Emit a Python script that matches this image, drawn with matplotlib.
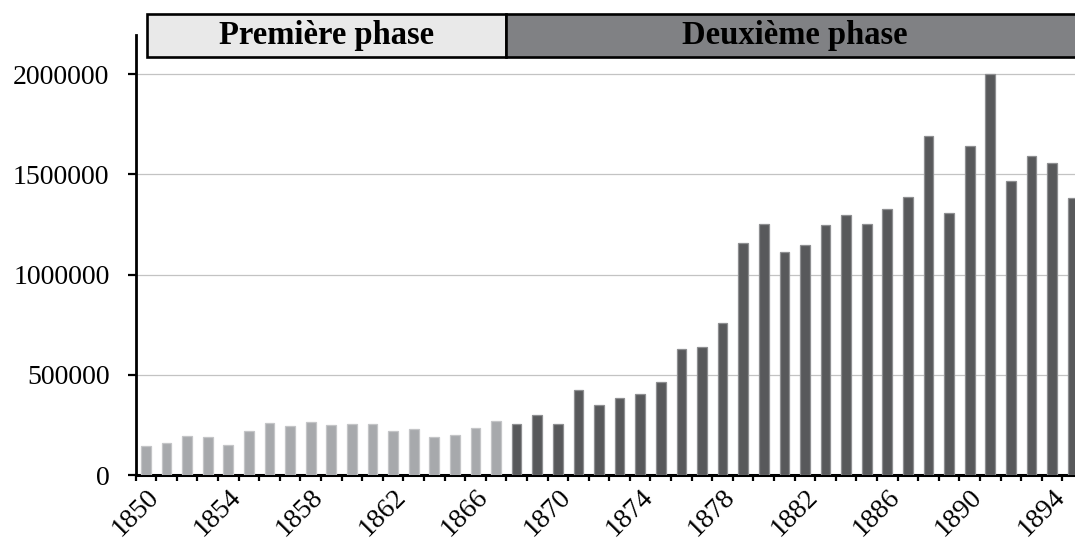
import matplotlib

matplotlib.use("Agg")

import matplotlib.pyplot as plt
from matplotlib.patches import Rectangle
from matplotlib.transforms import ScaledTranslation, blended_transform_factory

YEARS = list(range(1850, 1896))

VALUES = [
    144000, 158000, 196000, 191000, 151000, 220000, 258000, 242000, 262000, 247000,
    252000, 255000, 220000, 228000, 188000, 200000, 233000, 268000,
    255000, 298000, 254000, 425000, 349000, 385000, 405000, 466000, 631000, 636000,
    758000, 1158000, 1253000, 1110000, 1147000, 1245000, 1297000, 1253000, 1328000,
    1388000, 1690000, 1305000, 1641000, 2002000, 1465000, 1592000, 1557000, 1380000,
]

PHASE_LABELS = ["Première phase", "Deuxième phase"]
PHASE_SPLIT_YEAR = 1868

Y_TICKS = [0, 500000, 1000000, 1500000, 2000000]
X_LABEL_EVERY = 4

LIGHT_BAR = "#a7a9ac"
DARK_BAR = "#58595b"
LIGHT_BOX = "#e9e9e9"
DARK_BOX = "#808184"
FONT = "Liberation Serif"


def build_chart():
    plt.rcParams["font.family"] = FONT

    fig = plt.figure(figsize=(10.75, 5.43), dpi=100)
    # axes run a little past the right edge, like the cropped original
    ax = fig.add_axes([0.1262, 0.1252, 0.8812, 0.8103])

    x = list(range(len(YEARS)))
    split = YEARS.index(PHASE_SPLIT_YEAR)
    colors = [LIGHT_BAR if i < split else DARK_BAR for i in x]
    edges = ["#c4c5c7" if i < split else "#8e8f91" for i in x]

    ax.bar(x, VALUES, width=0.47, color=colors, edgecolor=edges, linewidth=0.9, zorder=3)

    ax.set_xlim(-0.5, len(YEARS) - 0.5)
    ax.set_ylim(0, 2194500)

    ax.set_yticks(Y_TICKS)
    ax.set_yticklabels([str(v) for v in Y_TICKS], fontsize=20)
    ax.grid(axis="y", color="#c3c3c3", linewidth=0.9, zorder=0)

    label_pos = x[::X_LABEL_EVERY]
    ax.set_xticks(label_pos)
    ax.set_xticklabels([str(YEARS[i]) for i in label_pos], fontsize=20, rotation=45,
                       ha="right", va="top", rotation_mode="anchor")
    shift = ScaledTranslation(-3 / 72, 0, fig.dpi_scale_trans)
    for lbl in ax.get_xticklabels():
        lbl.set_transform(lbl.get_transform() + shift)
    ax.set_xticks([i - 0.5 for i in x], minor=True)
    ax.tick_params(axis="x", which="major", length=0, pad=7)
    ax.tick_params(axis="x", which="minor", length=4.5, width=1.6, direction="out")
    ax.tick_params(axis="y", length=5.8, width=1.6, pad=13)

    for side in ("top", "right"):
        ax.spines[side].set_visible(False)
    ax.spines["left"].set_linewidth(2)
    ax.spines["bottom"].set_linewidth(2.2)

    # phase header boxes above the plot
    trans = blended_transform_factory(ax.transData, fig.transFigure)
    box_y0, box_h = 1 - 57 / 543, 43 / 543
    spans = [(0.05, split - 0.5, LIGHT_BOX), (split - 0.5, len(YEARS) - 0.5, DARK_BOX)]
    for (x0, x1, fill), label in zip(spans, PHASE_LABELS):
        ax.add_patch(Rectangle((x0, box_y0), x1 - x0, box_h, transform=trans,
                               facecolor=fill, edgecolor="black", linewidth=1.9,
                               clip_on=False, zorder=5))
        ax.text((x0 + x1) / 2, box_y0 + box_h / 2, label, transform=trans,
                ha="center", va="center", fontsize=23.5, fontweight="bold",
                zorder=6, clip_on=False)

    fig.savefig("out.png", dpi=100)
    plt.close(fig)


if __name__ == "__main__":
    build_chart()
